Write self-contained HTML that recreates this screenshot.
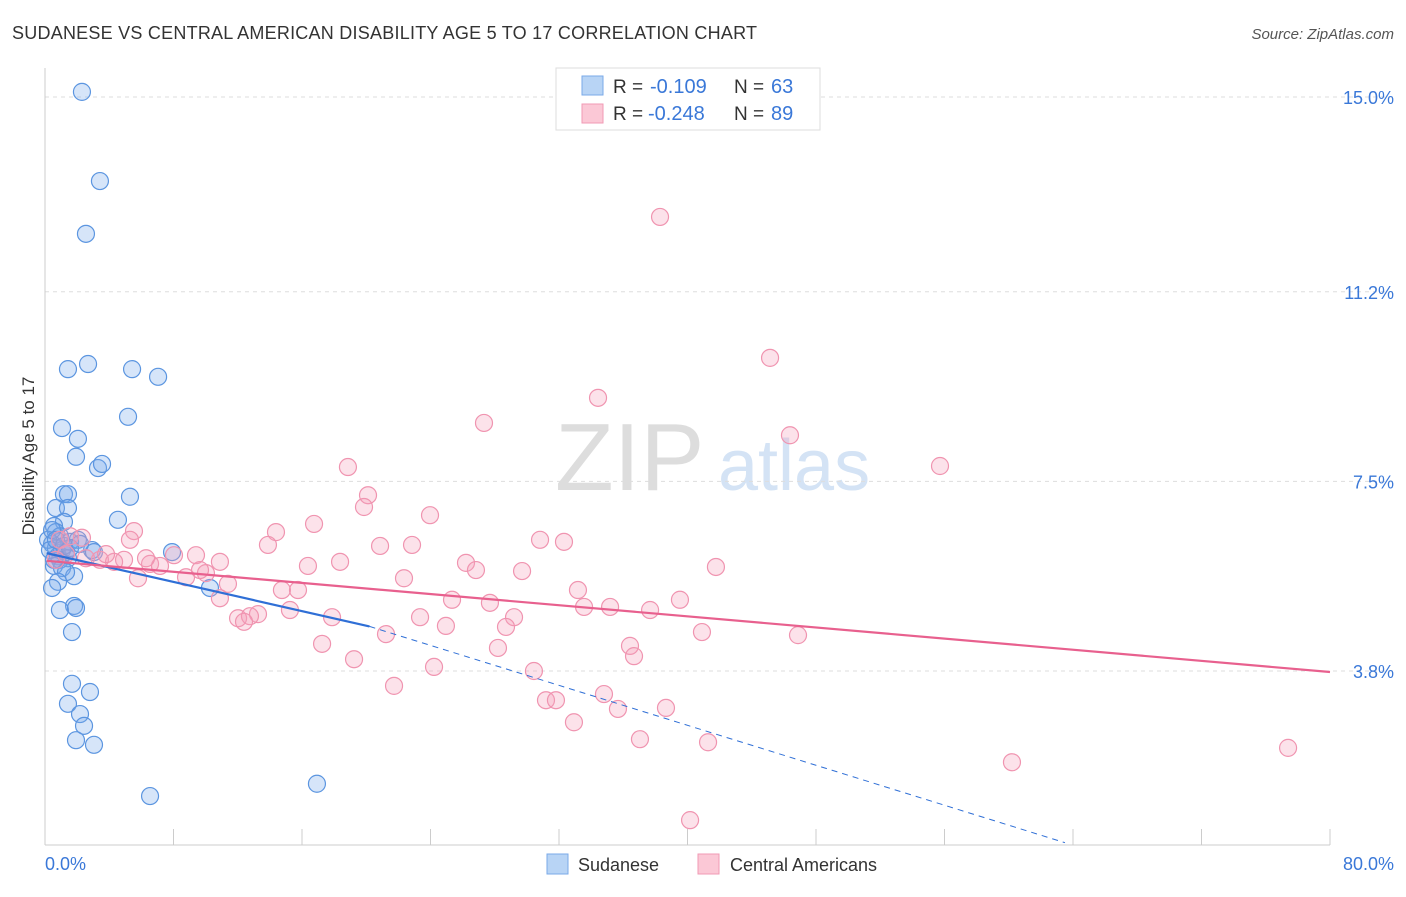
<!DOCTYPE html>
<html><head><meta charset="utf-8"><style>
body{margin:0;background:#fff;font-family:"Liberation Sans",sans-serif;}
svg text{font-family:"Liberation Sans",sans-serif;}
</style></head><body>
<svg id="chart" width="1406" height="892" xmlns="http://www.w3.org/2000/svg">
<text x="12" y="39" font-size="18" fill="#333" textLength="745">SUDANESE VS CENTRAL AMERICAN DISABILITY AGE 5 TO 17 CORRELATION CHART</text>
<text x="1394" y="39" font-size="15" fill="#555" font-style="italic" text-anchor="end">Source: ZipAtlas.com</text>
<text x="555" y="490" font-size="96" fill="#ddd" font-family="Liberation Serif">ZIP</text>
<text x="718" y="490" font-size="72" fill="#d4e3f5">atlas</text>
<g id="grid"></g>
<line x1="45" y1="68" x2="45" y2="845" stroke="#ccc"/>
<line x1="45" y1="845" x2="1330" y2="845" stroke="#ccc"/>
<g id="xt"></g>
<text x="45" y="870" font-size="18" fill="#3a78d8">0.0%</text>
<text x="1394" y="870" font-size="18" fill="#3a78d8" text-anchor="end">80.0%</text>
<text transform="translate(34,456) rotate(-90)" font-size="17" fill="#333" text-anchor="middle">Disability Age 5 to 17</text>
<g id="pts"></g>
<g id="lines"></g>
<g>
<rect x="556" y="68" width="264" height="62" fill="#fff" stroke="#ddd"/>
<rect x="582" y="76" width="21" height="19" fill="#b8d4f5" stroke="#7aaae8"/>
<rect x="582" y="104" width="21" height="19" fill="#fbc8d6" stroke="#f09ab4"/>
<text x="613" y="93" font-size="19" fill="#333">R =</text>
<text x="650" y="93" font-size="20" fill="#3a78d8">-0.109</text>
<text x="734" y="93" font-size="19" fill="#333">N =</text>
<text x="771" y="93" font-size="20" fill="#3a78d8">63</text>
<text x="613" y="120" font-size="19" fill="#333">R =</text>
<text x="648" y="120" font-size="20" fill="#3a78d8">-0.248</text>
<text x="734" y="120" font-size="19" fill="#333">N =</text>
<text x="771" y="120" font-size="20" fill="#3a78d8">89</text>
</g>
<g>
<rect x="547" y="854" width="21" height="20" fill="#b8d4f5" stroke="#7aaae8"/>
<text x="578" y="871" font-size="18" fill="#333">Sudanese</text>
<rect x="698" y="854" width="21" height="20" fill="#fbc8d6" stroke="#f09ab4"/>
<text x="730" y="871" font-size="18" fill="#333">Central Americans</text>
</g>
</svg>
<script>
const yTicks=[15.0,11.2,7.5,3.8];
const yTickLabels=["15.0%","11.2%","7.5%","3.8%"];
const xTicks=[8,16,24,32,40,48,56,64,72,80];
const bluePx=[[82,92],[100,181],[86,234],[68,369],[88,364],[132,369],[158,377],[128,417],[62,428],[78,439],[76,457],[98,468],[102,464],[130,497],[64,494],[68,494],[56,508],[68,508],[118,520],[64,522],[54,526],[56,532],[60,536],[70,542],[78,540],[52,544],[56,548],[62,550],[66,552],[92,550],[94,552],[58,556],[60,560],[68,558],[54,566],[62,568],[74,576],[66,572],[58,582],[52,588],[210,588],[172,552],[74,606],[60,610],[76,608],[72,632],[72,684],[90,692],[68,704],[80,714],[84,726],[76,740],[94,745],[150,796],[317,784],[48,540],[50,550],[54,560],[52,530],[64,546],[70,548],[80,544],[56,540]];
const pinkPx=[[660,217],[770,358],[598,398],[484,423],[790,435],[940,466],[348,467],[368,495],[364,507],[430,515],[276,532],[314,524],[134,531],[130,540],[196,555],[174,555],[268,545],[380,546],[412,545],[540,540],[564,542],[466,563],[476,570],[522,571],[340,562],[308,566],[716,567],[206,573],[228,584],[138,578],[186,577],[150,564],[160,566],[100,560],[124,560],[114,562],[86,558],[220,598],[282,590],[298,590],[404,578],[578,590],[452,600],[490,603],[514,617],[584,607],[610,607],[650,610],[680,600],[238,618],[258,614],[250,616],[290,610],[332,617],[446,626],[420,617],[506,627],[386,634],[702,632],[798,635],[630,646],[634,656],[322,644],[354,659],[498,648],[434,667],[534,671],[394,686],[604,694],[546,700],[556,700],[618,709],[666,708],[574,722],[640,739],[708,742],[1012,762],[1288,748],[690,820],[60,540],[70,536],[82,538],[56,560],[66,554],[106,554],[244,622],[220,562],[200,570],[146,558]];
const sudaneseX=bluePx.map(p=>+((p[0]-45)/16.0625).toFixed(2));
const sudaneseY=bluePx.map(p=>+((865.75-p[1])/51.25).toFixed(2));
const centralX=pinkPx.map(p=>+((p[0]-45)/16.0625).toFixed(2));
const centralY=pinkPx.map(p=>+((865.75-p[1])/51.25).toFixed(2));
const blueTrend=[[0.1,6.1],[20.2,4.67],[63.5,0.45]];
const pinkTrend=[[0.1,5.95],[80,3.78]];
const X=v=>45+v*16.0625, Y=v=>865.75-v*51.25;
const NS="http://www.w3.org/2000/svg";
function mk(tag,attrs,parent){const e=document.createElementNS(NS,tag);for(const k in attrs)e.setAttribute(k,attrs[k]);document.getElementById(parent).appendChild(e);return e;}
yTicks.forEach((t,i)=>{
 const l=mk('line',{x1:45,x2:1394,y1:Y(t),y2:Y(t),stroke:'#ddd','stroke-dasharray':'4,4'},'grid');
 
 
 const tx=mk('text',{x:1394,y:Y(t)+7,'font-size':18,fill:'#3a78d8','text-anchor':'end'},'grid');
 tx.textContent=yTickLabels[i];
 
 
});
xTicks.forEach(t=>{
 const l=mk('line',{x1:X(t),x2:X(t),y1:829,y2:845,stroke:'#ccc'},'xt');
 
 
});
for(let i=0;i<sudaneseX.length;i++){
 const c=mk('circle',{cx:X(sudaneseX[i]),cy:Y(sudaneseY[i]),r:8.5,fill:'rgba(120,170,235,0.3)',stroke:'#5b95e0','stroke-width':1.2},'pts');
 
 
}
for(let i=0;i<centralX.length;i++){
 const c=mk('circle',{cx:X(centralX[i]),cy:Y(centralY[i]),r:8.5,fill:'rgba(245,160,185,0.3)',stroke:'#f094b0','stroke-width':1.2},'pts');
 
 
}
let l1=mk('line',{x1:X(blueTrend[0][0]),y1:Y(blueTrend[0][1]),x2:X(blueTrend[1][0]),y2:Y(blueTrend[1][1]),stroke:'#2f6fd6','stroke-width':2.2},'lines');


let l2=mk('line',{x1:X(blueTrend[1][0]),y1:Y(blueTrend[1][1]),x2:X(blueTrend[2][0]),y2:Y(blueTrend[2][1]),stroke:'#2f6fd6','stroke-width':1,'stroke-dasharray':'6,5'},'lines');


let l3=mk('line',{x1:X(pinkTrend[0][0]),y1:Y(pinkTrend[0][1]),x2:X(pinkTrend[1][0]),y2:Y(pinkTrend[1][1]),stroke:'#e8608e','stroke-width':2.2},'lines');


</script>
</body></html>
